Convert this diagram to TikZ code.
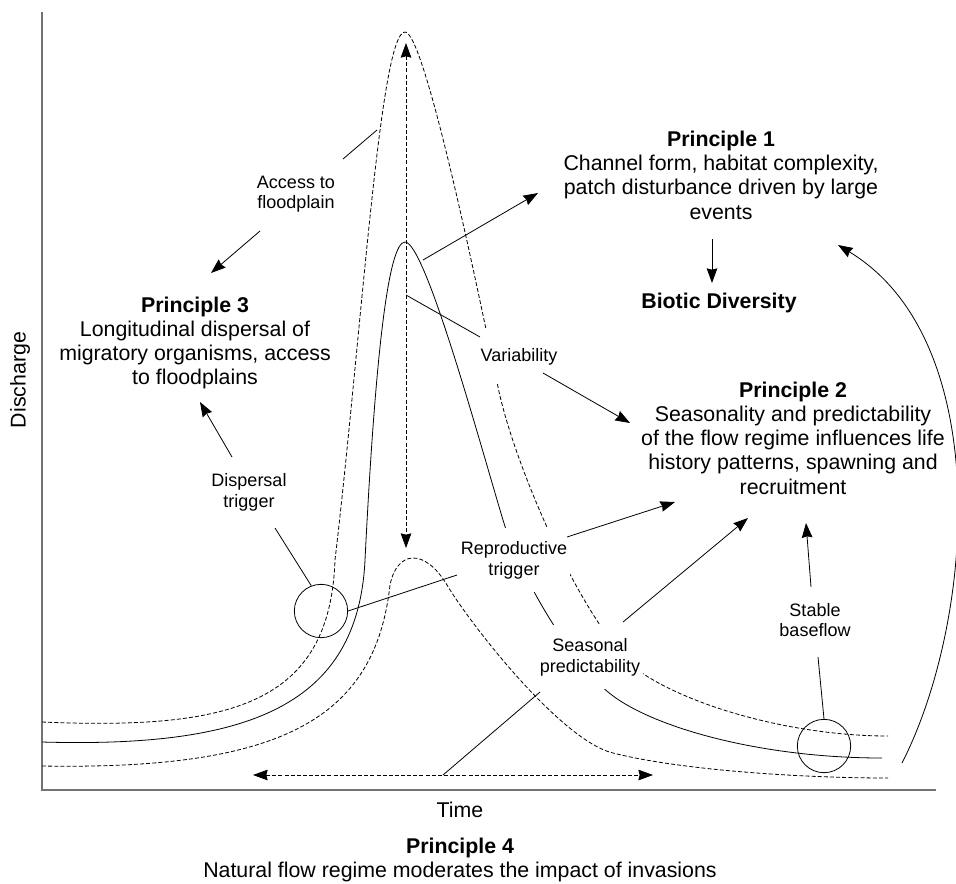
\documentclass[tikz,border=0pt]{standalone}
\usepackage{fontspec}
\setmainfont{Liberation Sans}
\usetikzlibrary{arrows.meta}

\begin{document}
\begin{tikzpicture}[
    x = 0.75pt, y = -0.75pt, % one unit per pixel, y downwards
    > = {Stealth[length=11pt, width=8pt, inset=1pt]}, % arrow head style
    line width = 0.6pt, % line style
    big/.style = {align=center, font=\fontsize{16}{18.2}\selectfont},
    lbl/.style = {align=center, fill=white, inner xsep=2pt, font=\fontsize{13.5}{15.5}\selectfont},
    flow/.style = {dash pattern=on 3pt off 1.6pt},
    axis/.style = {draw=black!55, line width=1.3pt},
    ring/.style = {shape=circle, draw=black, minimum size=40pt, inner sep=0pt}
    ]
\useasboundingbox (0,0) rectangle (956,883);

% axes
\coordinate (ytop) at (42,12);
\coordinate (o) at (42,790);
\coordinate (xend) at (936,790);
\draw[axis] (ytop) -- (o) -- (xend);

% hydrographs: large flood, mean year, small flood
\draw[flow] (42,722) .. controls (230,730) and (330,705) .. (335,560)
    .. controls (362,330) and (380,32) .. (405,32)
    .. controls (425,32) and (480,300) .. (498,387)
    .. controls (515,470) and (590,640) .. (645,675)
    .. controls (700,710) and (800,736) .. (888,736);
\draw (42,742) .. controls (250,748) and (358,705) .. (365,560)
    .. controls (375,360) and (388,242) .. (405,242)
    .. controls (425,242) and (479,440) .. (503,520)
    .. controls (520,577) and (570,660) .. (608,692)
    .. controls (650,727) and (760,758) .. (882,758);
\draw[flow] (42,766) .. controls (280,770) and (375,720) .. (390,585)
    .. controls (397,550) and (425,548) .. (447,585)
    .. controls (469,622) and (560,740) .. (613,753)
    .. controls (680,770) and (800,778) .. (888,778);

% flow events
\node[ring] (disp) at (321,611) {};
\node[ring] (base) at (824,746) {};

% labels on the curves
\node[lbl] (access) at (296,194) {Access to\\floodplain};
\node[lbl, inner ysep=14pt] (variab) at (519,357) {Variability};
\node[lbl] (dtrig) at (249,492) {Dispersal\\trigger};
\node[lbl, inner ysep=10pt] (rtrig) at (514,560) {Reproductive\\trigger};
\node[lbl, inner ysep=10pt] (season) at (590,657) {Seasonal\\predictability};
\node[lbl] (stable) at (815,620) {Stable\\baseflow};

% principles
\node[big] (p1) at (721,175) {\textbf{Principle 1}\\Channel form, habitat complexity,\\patch disturbance driven by large\\events};
\node[big] (bio) at (719,303) {\textbf{Biotic Diversity}};
\node[big] (p2) at (793,438) {\textbf{Principle 2}\\Seasonality and predictability\\of the flow regime influences life\\history patterns, spawning and\\recruitment};
\node[big] (p3) at (195,343) {\textbf{Principle 3}\\Longitudinal dispersal of\\migratory organisms, access\\to floodplains};
\node[big] (p4) at (460,860) {\textbf{Principle 4}\\Natural flow regime moderates the impact of invasions};
\node[big, rotate=90] (ylab) at (20,380) {Discharge};
\node[big] (xlab) at (460,810) {Time};

% connector ends
\coordinate (a1) at (343,159);
\coordinate (a2) at (377,130);
\coordinate (a3) at (260,231);
\coordinate (a4) at (211,273);
\coordinate (d1) at (232,457);
\coordinate (d2) at (200,402);
\coordinate (d3) at (275,528);
\coordinate (r1) at (457,575);
\coordinate (r2) at (567,537);
\coordinate (r3) at (675,502);
\coordinate (k1) at (423,260);
\coordinate (k2) at (538,193);
\coordinate (v1) at (406,295);
\coordinate (v2) at (480,337);
\coordinate (v3) at (543,373);
\coordinate (v4) at (630,423);
\coordinate (s1) at (623,622);
\coordinate (s2) at (748,518);
\coordinate (s3) at (540,692);
\coordinate (s4) at (443,775);
\coordinate (b1) at (811,587);
\coordinate (b2) at (806,523);
\coordinate (b3) at (818,657);
\coordinate (t1) at (712,239);
\coordinate (t2) at (712,283);
\coordinate (c1) at (902,763);
\coordinate (c2) at (838,245);
\coordinate (vtop) at (406,43);
\coordinate (vbot) at (406,548);
\coordinate (hl) at (253,775);
\coordinate (hr) at (653,775);

% ranges
\draw[flow, <->] (vtop) -- (vbot);
\draw[flow, <->] (hl) -- (hr);

% connectors
\draw (a1) -- (a2);
\draw[->] (a3) -- (a4);
\draw[->] (d1) -- (d2);
\draw (d3) -- (disp.111);
\draw (disp.east) -- (r1);
\draw[->] (r2) -- (r3);
\draw[->] (k1) -- (k2);
\draw (v1) -- (v2);
\draw[->] (v3) -- (v4);
\draw[->] (s1) -- (s2);
\draw (s3) -- (s4);
\draw[->] (b1) -- (b2);
\draw (b3) -- (base.north);
\draw[->] (t1) -- (t2);
\draw[->] (c1) .. controls (975,620) and (995,340) .. (c2);
\end{tikzpicture}
\end{document}
